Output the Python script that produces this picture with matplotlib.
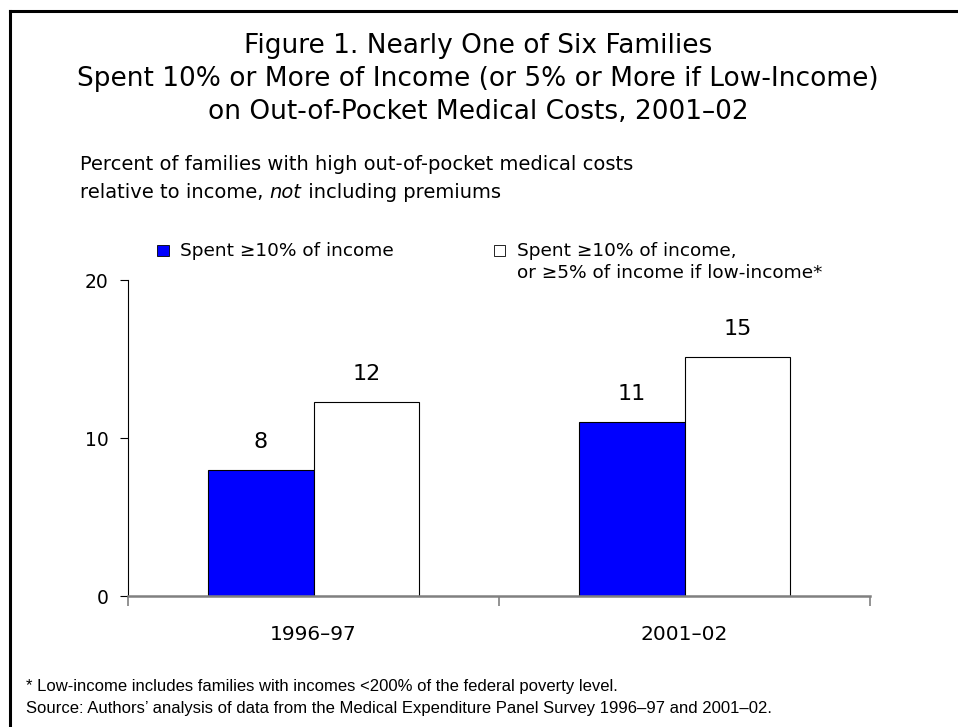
import numpy as np
import matplotlib
matplotlib.use("Agg")
import matplotlib.pyplot as plt
from matplotlib.patches import Rectangle
from matplotlib.lines import Line2D

periods = ["1996\u201397", "2001\u201302"]
spent_10 = [8.0, 11.0]
spent_10_or_5_low = [12.3, 15.1]

blue = "#0000FF"

fig = plt.figure(figsize=(9.58, 7.27), dpi=100)
fig.patch.set_facecolor("white")

# frame open on the right and bottom
fig.add_artist(Line2D([10 / 958, 10 / 958], [0, 1 - 11 / 727], transform=fig.transFigure,
                      color="black", lw=2.2, solid_capstyle="projecting"))
fig.add_artist(Line2D([10 / 958, 1], [1 - 11 / 727, 1 - 11 / 727], transform=fig.transFigure,
                      color="black", lw=2.2, solid_capstyle="projecting"))

title_lines = [
    "Figure 1. Nearly One of Six Families",
    "Spent 10% or More of Income (or 5% or More if Low-Income)",
    "on Out-of-Pocket Medical Costs, 2001\u201302",
]
for i, line in enumerate(title_lines):
    fig.text(0.499, 1 - (46 + 33 * i) / 727, line, ha="center", va="center",
             fontsize=19, family="DejaVu Sans")

sub_fs = 14
fig.text(80 / 958, 1 - 164 / 727, "Percent of families with high out-of-pocket medical costs",
         ha="left", va="center", fontsize=sub_fs, family="DejaVu Sans")
t1 = fig.text(80 / 958, 1 - 192 / 727, "relative to income, ", ha="left", va="center",
              fontsize=sub_fs, family="DejaVu Sans")

ax = fig.add_axes([128 / 958, 1 - 596 / 727, (870 - 128) / 958, (596 - 280) / 727])

x = np.arange(len(periods))
w = 0.285
b1 = ax.bar(x - w / 2, spent_10, w, color=blue, edgecolor="black", lw=0.8)
b2 = ax.bar(x + w / 2, spent_10_or_5_low, w, color="white", edgecolor="black", lw=0.8)

for bars, vals in ((b1, spent_10), (b2, spent_10_or_5_low)):
    for r, v in zip(bars, vals):
        ax.annotate(f"{v:.0f}", (r.get_x() + r.get_width() / 2, v), xytext=(0, 13),
                    textcoords="offset points", ha="center", va="bottom", fontsize=16)

ax.set_xlim(-0.5, len(periods) - 0.5)
ax.set_ylim(0, 20)
ax.set_yticks([0, 10, 20])
ax.tick_params(axis="y", direction="out", length=6, width=0.8, labelsize=13.5, pad=8)
ax.set_xticks(np.arange(len(periods) + 1) - 0.5)
ax.set_xticklabels([])
ax.set_xticks(x, minor=True)
ax.set_xticklabels(periods, minor=True, fontsize=14.5)
ax.tick_params(axis="x", which="major", direction="out", length=7, width=1.2, color="#808080")
ax.tick_params(axis="x", which="minor", length=0, pad=21)

for s in ("top", "right"):
    ax.spines[s].set_visible(False)
ax.spines["left"].set_linewidth(0.8)
ax.spines["bottom"].set_color("#808080")
ax.spines["bottom"].set_linewidth(1.8)

# legend drawn in figure coordinates
leg_fs = 13.3
fig.add_artist(Rectangle((157 / 958, 1 - 256 / 727), 12 / 958, 11 / 727,
                         transform=fig.transFigure, facecolor=blue, edgecolor="black", lw=0.6))
fig.text(180 / 958, 1 - 251 / 727, "Spent \u226510% of income", ha="left", va="center",
         fontsize=leg_fs, family="DejaVu Sans")
fig.add_artist(Rectangle((494 / 958, 1 - 256 / 727), 11 / 958, 11 / 727,
                         transform=fig.transFigure, facecolor="white", edgecolor="black", lw=0.6))
fig.text(517 / 958, 1 - 251 / 727, "Spent \u226510% of income,", ha="left", va="center",
         fontsize=leg_fs, family="DejaVu Sans")
fig.text(517 / 958, 1 - 273 / 727, "or \u22655% of income if low-income*", ha="left", va="center",
         fontsize=leg_fs, family="DejaVu Sans")

fig.text(26 / 958, 1 - 687 / 727,
         "* Low-income includes families with incomes <200% of the federal poverty level.",
         ha="left", va="center", fontsize=12, family="Liberation Sans")
fig.text(26 / 958, 1 - 709 / 727,
         "Source: Authors\u2019 analysis of data from the Medical Expenditure Panel Survey 1996\u201397 and 2001\u201302.",
         ha="left", va="center", fontsize=12, family="Liberation Sans")

# second subtitle line with italic "not"
fig.canvas.draw()
r = fig.canvas.get_renderer()
bb = t1.get_window_extent(r)
t2 = fig.text(bb.x1 / fig.bbox.width, 1 - 192 / 727, "not", ha="left", va="center",
              fontsize=sub_fs, family="DejaVu Sans", style="italic")
bb2 = t2.get_window_extent(r)
fig.text(bb2.x1 / fig.bbox.width, 1 - 192 / 727, " including premiums", ha="left", va="center",
         fontsize=sub_fs, family="DejaVu Sans")

fig.savefig("out.png", dpi=100)
